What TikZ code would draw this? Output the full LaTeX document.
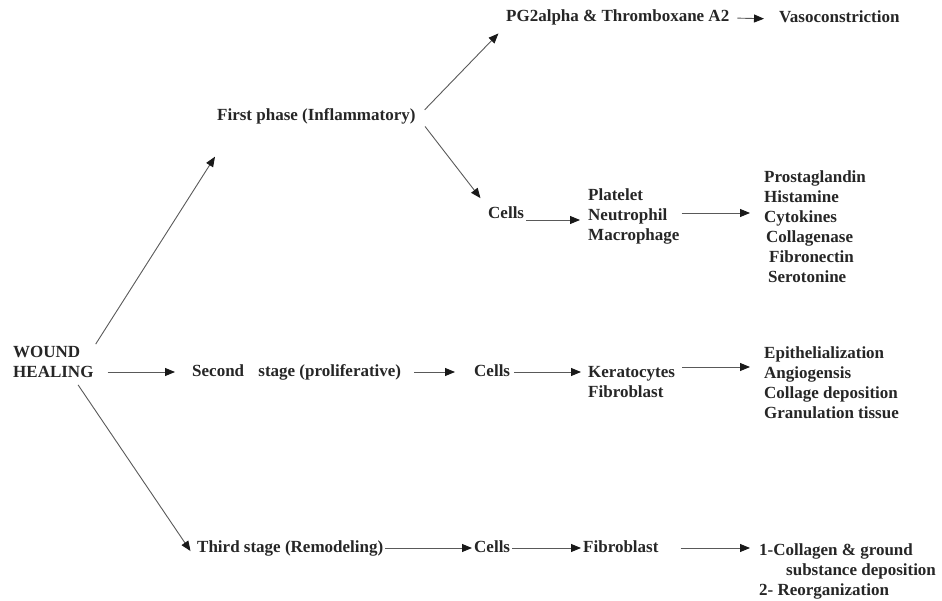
\documentclass[tikz,border=0pt]{standalone}
\usepackage{fontspec}
\setmainfont{Liberation Serif}
\usetikzlibrary{positioning, calc, arrows.meta}
\tikzset{
	arrow/.style={draw=black!65, line width=0.9pt, -{Triangle[length=10pt, width=8pt, color=black!90]}},
	txt/.style={anchor=west, inner sep=2pt, text=black!85, font=\fontsize{17}{20}\selectfont\bfseries},
	stage/.style={txt, text height=11.5pt, text depth=3.5pt},
	list/.style={txt, align=left},
}

\begin{document}
\begin{tikzpicture}[x=1pt, y=-1pt]
		\useasboundingbox (0,0) rectangle (942,601);

		% Wound healing and its three stages
		\node[list] (W) at (11,362) {WOUND\\HEALING};
		\node[stage] (F) at (215,117) {First phase (Inflammatory)};
		\node[stage] (S) at (190,372) {Second\hspace{10pt} stage (proliferative)};
		\node[stage] (T) at (195,548) {Third stage (Remodeling)};

		\draw[arrow] (W.north east) -- ([yshift=-30pt]F.south west);
		\draw[arrow, shorten <=12pt, shorten >=15pt] (W.east |- S.west) -- (S.west);
		\draw[arrow, shorten <=6pt, shorten >=8pt] (W.-40) -- (T.south west);

		% First phase
		\node[stage] (F1) at (504,18) {PG2alpha \& Thromboxane A2};
		\node[stage] (F2) at (777,19) {Vasoconstriction};
		\node[stage] (F3) at (486,215) {Cells};
		\node[list] (F4) at (586,216) {Platelet\\Neutrophil\\Macrophage};
		\node[list] (F5) at (762,227) {Prostaglandin\\Histamine\\Cytokines\\\hspace*{2pt}Collagenase\\\hspace*{5pt}Fibronectin\\\hspace*{4pt}Serotonine};

		\draw[arrow, shorten <=10pt, shorten >=8pt] (F.east) -- (F1.south west);
		\draw[arrow, shorten <=12pt, shorten >=9pt] (F.east) -- (F3.north west);
		\draw[arrow, shorten <=6pt, shorten >=13pt] (F1.east) -- (F2.west);
		\draw[arrow, shorten >=6pt] ([yshift=-5pt]F3.east) -- ([yshift=-5pt]F3.east -| F4.west);
		\draw[arrow, shorten >=12pt] ([yshift=3pt]F4.east) -- ([yshift=3pt]F4.east -| F5.west);

		% Second stage
		\node[stage] (S1) at (472,372) {Cells};
		\node[list] (S2) at (586,382) {Keratocytes\\Fibroblast};
		\node[list] (S3) at (762,383) {Epithelialization\\Angiogensis\\Collage deposition\\Granulation tissue};

		\draw[arrow, shorten <=11pt, shorten >=17pt] (S.east) -- (S1.west);
		\draw[arrow, shorten <=2pt, shorten >=5pt] (S1.east) -- (S1.east -| S2.west);
		\draw[arrow, shorten <=5pt, shorten >=12pt] ([yshift=15pt]S2.east) -- ([yshift=15pt]S2.east -| S3.west);

		% Third stage
		\node[stage] (T1) at (472,548) {Cells};
		\node[stage] (T2) at (581,548) {Fibroblast};
		\node[list] (T3) at (757,571) {1-Collagen \& ground\\\hspace*{27pt}substance deposition\\2- Reorganization};

		\draw[arrow] (T.east) -- (T1.west);
		\draw[arrow] (T1.east) -- (T2.west);
		\draw[arrow, shorten <=20pt, shorten >=7pt] (T2.east) -- (T2.east -| T3.west);
	\end{tikzpicture}
\end{document}
